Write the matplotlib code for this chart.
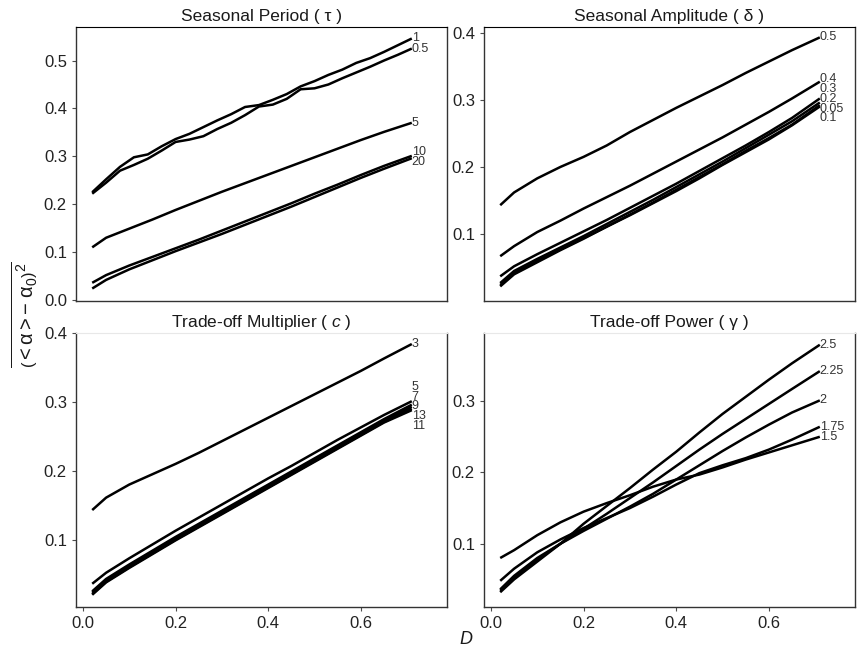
import numpy as np
import matplotlib
matplotlib.use("Agg")
import matplotlib.pyplot as plt

plt.rcParams["font.family"] = ["Liberation Sans", "DejaVu Sans"]
plt.rcParams["mathtext.fontset"] = "custom"
plt.rcParams["mathtext.rm"] = "Liberation Sans"
plt.rcParams["mathtext.it"] = "Liberation Sans:italic"

# -----------------------------
# data
# -----------------------------
D = [0.02, 0.05, 0.10, 0.15, 0.20, 0.25, 0.30, 0.35, 0.40, 0.45, 0.50, 0.55, 0.60, 0.65, 0.71]
D_fine = [0.02, 0.05, 0.08, 0.11, 0.14, 0.17, 0.20, 0.23, 0.26, 0.29, 0.32, 0.35,
          0.38, 0.41, 0.44, 0.47, 0.50, 0.53, 0.56, 0.59, 0.62, 0.65, 0.68, 0.71]

# seasonal period (tau)
tau_labels = ["1", "0.5", "5", "10", "20"]
tau_1 = [0.225, 0.252, 0.278, 0.298, 0.304, 0.321, 0.336, 0.347, 0.361, 0.375, 0.388, 0.403,
         0.407, 0.418, 0.430, 0.446, 0.457, 0.470, 0.481, 0.495, 0.505, 0.518, 0.532, 0.546]
tau_05 = [0.222, 0.245, 0.270, 0.282, 0.295, 0.312, 0.330, 0.335, 0.342, 0.357, 0.370, 0.386,
          0.404, 0.408, 0.420, 0.440, 0.442, 0.450, 0.463, 0.475, 0.487, 0.500, 0.512, 0.525]
tau_5 = [0.110, 0.130, 0.149, 0.168, 0.188, 0.207, 0.226, 0.244, 0.262, 0.280, 0.298, 0.316, 0.334, 0.351, 0.370]
tau_10 = [0.036, 0.052, 0.072, 0.090, 0.108, 0.126, 0.145, 0.164, 0.183, 0.202, 0.222, 0.241, 0.261, 0.280, 0.301]
tau_20 = [0.024, 0.042, 0.064, 0.083, 0.102, 0.120, 0.138, 0.157, 0.176, 0.195, 0.215, 0.235, 0.255, 0.274, 0.296]

# seasonal amplitude (delta)
delta_labels = ["0.5", "0.4", "0.3", "0.2", "0.05", "0.1"]
delta_05 = [0.143, 0.162, 0.183, 0.200, 0.215, 0.232, 0.252, 0.270, 0.288, 0.305, 0.322, 0.340, 0.357, 0.374, 0.393]
delta_04 = [0.067, 0.082, 0.103, 0.120, 0.138, 0.155, 0.172, 0.190, 0.208, 0.226, 0.244, 0.263, 0.282, 0.302, 0.327]
delta_03 = [0.037, 0.052, 0.070, 0.087, 0.104, 0.121, 0.139, 0.157, 0.175, 0.194, 0.213, 0.232, 0.252, 0.273, 0.302]
delta_02 = [0.027, 0.045, 0.063, 0.080, 0.097, 0.115, 0.133, 0.151, 0.170, 0.189, 0.208, 0.228, 0.248, 0.268, 0.296]
delta_005 = [0.022, 0.040, 0.058, 0.076, 0.093, 0.111, 0.129, 0.147, 0.166, 0.185, 0.204, 0.224, 0.243, 0.263, 0.292]
delta_01 = [0.024, 0.042, 0.060, 0.077, 0.094, 0.111, 0.128, 0.146, 0.164, 0.183, 0.203, 0.222, 0.241, 0.262, 0.290]

# trade-off multiplier (c)
c_labels = ["3", "5", "7", "9", "13", "11"]
c_3 = [0.143, 0.161, 0.180, 0.195, 0.210, 0.226, 0.243, 0.260, 0.277, 0.294, 0.311, 0.328, 0.345, 0.363, 0.384]
c_5 = [0.036, 0.052, 0.073, 0.093, 0.113, 0.132, 0.151, 0.170, 0.189, 0.207, 0.226, 0.245, 0.263, 0.281, 0.301]
c_7 = [0.025, 0.043, 0.064, 0.084, 0.104, 0.123, 0.142, 0.161, 0.180, 0.199, 0.218, 0.237, 0.256, 0.275, 0.296]
c_9 = [0.023, 0.041, 0.062, 0.082, 0.102, 0.121, 0.140, 0.159, 0.178, 0.197, 0.216, 0.235, 0.254, 0.273, 0.293]
c_13 = [0.021, 0.039, 0.060, 0.080, 0.100, 0.119, 0.138, 0.157, 0.176, 0.195, 0.214, 0.233, 0.252, 0.271, 0.290]
c_11 = [0.020, 0.038, 0.059, 0.079, 0.099, 0.118, 0.137, 0.156, 0.175, 0.194, 0.213, 0.232, 0.251, 0.270, 0.288]

# trade-off power (gamma)
gamma_labels = ["2.5", "2.25", "2", "1.75", "1.5"]
gamma_25 = [0.032, 0.050, 0.075, 0.100, 0.128, 0.153, 0.178, 0.204, 0.229, 0.256, 0.282, 0.306, 0.330, 0.353, 0.379]
gamma_225 = [0.034, 0.052, 0.078, 0.100, 0.121, 0.142, 0.164, 0.186, 0.209, 0.232, 0.254, 0.275, 0.296, 0.317, 0.342]
gamma_2 = [0.036, 0.055, 0.080, 0.100, 0.118, 0.135, 0.152, 0.170, 0.190, 0.210, 0.230, 0.249, 0.267, 0.284, 0.301]
gamma_175 = [0.048, 0.065, 0.088, 0.106, 0.122, 0.136, 0.150, 0.166, 0.183, 0.199, 0.210, 0.220, 0.232, 0.246, 0.264]
gamma_15 = [0.080, 0.091, 0.112, 0.130, 0.145, 0.157, 0.168, 0.180, 0.190, 0.197, 0.207, 0.218, 0.228, 0.238, 0.250]

panels = [
    ("Seasonal Period ( τ )", tau_labels,
     [(D_fine, tau_1), (D_fine, tau_05), (D, tau_5), (D, tau_10), (D, tau_20)],
     (-0.001, 0.570), [0.0, 0.1, 0.2, 0.3, 0.4, 0.5]),
    ("Seasonal Amplitude ( δ )", delta_labels,
     [(D, delta_05), (D, delta_04), (D, delta_03), (D, delta_02), (D, delta_005), (D, delta_01)],
     (0.001, 0.4085), [0.1, 0.2, 0.3, 0.4]),
    ("Trade-off Multiplier ( $c$ )", c_labels,
     [(D, c_3), (D, c_5), (D, c_7), (D, c_9), (D, c_13), (D, c_11)],
     (0.003, 0.400), [0.1, 0.2, 0.3, 0.4]),
    ("Trade-off Power ( γ )", gamma_labels,
     [(D, gamma_25), (D, gamma_225), (D, gamma_2), (D, gamma_175), (D, gamma_15)],
     (0.012, 0.3955), [0.1, 0.2, 0.3]),
]


def spread_labels(ends, gap):
    # push overlapping end labels apart, keeping each cluster centred on its mean
    order = list(np.argsort(ends))
    clusters = [[i] for i in order]
    while True:
        pos = []
        for cl in clusters:
            centre = np.mean([ends[i] for i in cl])
            n = len(cl)
            pos.append([centre + (k - (n - 1) / 2) * gap for k in range(n)])
        merged = False
        for j in range(len(clusters) - 1):
            if pos[j + 1][0] - pos[j][-1] < gap - 1e-9:
                clusters[j] = clusters[j] + clusters[j + 1]
                del clusters[j + 1]
                merged = True
                break
        if not merged:
            break
    out = [0.0] * len(ends)
    for cl, p in zip(clusters, pos):
        for i, y in zip(cl, p):
            out[i] = y
    return out


fig = plt.figure(figsize=(8.61, 6.53), dpi=100)
W, H = 861, 653
lefts = [76, 484, 76, 484]
tops = [27, 27, 333, 333]
aw, ah = 371, 273.5

for k, (title, labels, series, ylim, yticks) in enumerate(panels):
    ax = fig.add_axes([lefts[k] / W, 1 - (tops[k] + ah) / H, aw / W, ah / H])
    for xs, ys in series:
        ax.plot(xs, ys, color="black", lw=1.8, solid_capstyle="butt")
    ax.set_xlim(-0.015, 0.786)
    ax.set_ylim(*ylim)
    ax.set_yticks(yticks)
    ax.set_yticklabels([f"{t:.1f}" for t in yticks])
    ax.set_title(title, fontsize=12.5, pad=4, color="#1a1a1a")

    gap = 9.8 * (ylim[1] - ylim[0]) / ah
    ends = [ys[-1] for xs, ys in series]
    label_y = spread_labels(ends, gap)
    for (xs, ys), lab, ly in zip(series, labels, label_y):
        ax.text(xs[-1], ly, lab, fontsize=9, color="#333333", ha="left", va="center")

    if k >= 2:
        ax.set_xticks([0.0, 0.2, 0.4, 0.6])
        ax.set_xticklabels(["0.0", "0.2", "0.4", "0.6"])
        ax.spines["top"].set_color("#e8e8e8")
    else:
        ax.set_xticks([])
    for s in ["left", "bottom", "right"]:
        ax.spines[s].set_color("#333333")
        ax.spines[s].set_linewidth(1.0)
    ax.tick_params(labelsize=12, colors="#4d4d4d", labelcolor="#222222", length=3, width=0.8)

fig.text(25 / W, 1 - 315 / H,
         r"$\overline{\left( < \mathrm{\alpha} > - \; \mathrm{\alpha}_0 \right)^2}$",
         rotation=90, ha="center", va="center", fontsize=14.5, color="#1a1a1a")
fig.text(465.5 / W, 1 - 640 / H, "D", style="italic", ha="center", va="center",
         fontsize=13, color="#1a1a1a")

fig.savefig("out.png", dpi=100)
